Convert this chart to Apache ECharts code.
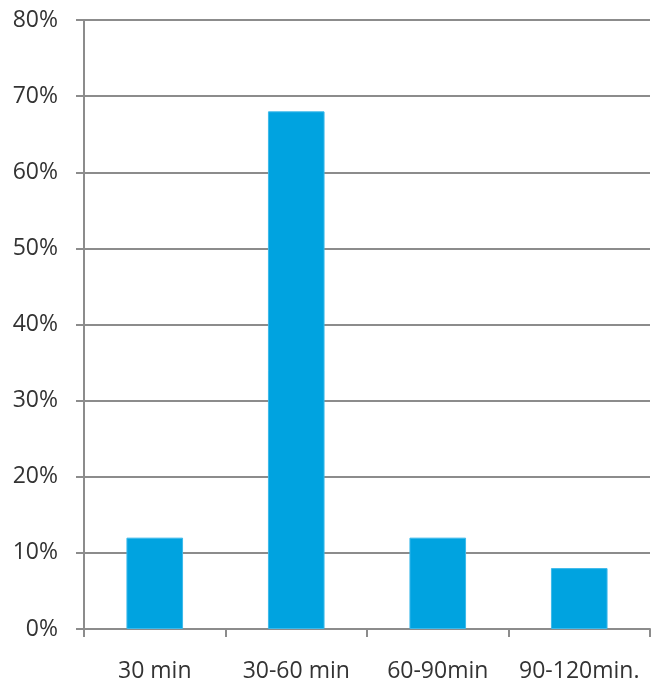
<!DOCTYPE html>
<html>
<head>
<meta charset="utf-8">
<script src="https://cdn.jsdelivr.net/npm/echarts@6/dist/echarts.min.js"></script>
<style>
  html, body { margin: 0; padding: 0; background: #fff; }
  #chart { width: 663px; height: 685px; }
</style>
</head>
<body>
<div id="chart"></div>
<script>
// Duration buckets and share of respondents (fraction)
const categories = ['30 min', '30-60 min', '60-90min', '90-120min.'];
const shares = [0.12, 0.68, 0.12, 0.08];
const yTicks = { min: 0, max: 0.8, interval: 0.1 };

const axisGrey = '#8c8c8c';
const textColor = '#333333';
const fontFamily = '"Open Sans", "DejaVu Sans", sans-serif';

const chart = echarts.init(document.getElementById('chart'), null, { renderer: 'canvas' });
chart.setOption({
  animation: false,
  backgroundColor: '#ffffff',
  grid: { left: 84, right: 13, top: 20, bottom: 56, containLabel: false },
  xAxis: {
    type: 'category',
    data: categories,
    boundaryGap: true,
    axisLine: { show: true, lineStyle: { color: axisGrey, width: 2 } },
    axisTick: { show: true, length: 8, interval: 0, alignWithLabel: false, lineStyle: { color: axisGrey, width: 2 } },
    axisLabel: { interval: 0, hideOverlap: false, color: textColor, fontSize: 23, fontFamily: fontFamily, margin: 31 },
    splitLine: { show: false }
  },
  yAxis: {
    type: 'value',
    min: yTicks.min,
    max: yTicks.max,
    interval: yTicks.interval,
    axisLine: { show: true, lineStyle: { color: axisGrey, width: 2 } },
    axisTick: { show: true, length: 8, lineStyle: { color: axisGrey, width: 2 } },
    axisLabel: {
      color: textColor, fontSize: 23, fontFamily: fontFamily, margin: 26,
      formatter: v => Math.round(v * 100) + '%'
    },
    splitLine: { show: true, lineStyle: { color: axisGrey, width: 2 } }
  },
  series: [{
    type: 'bar',
    data: shares,
    barWidth: '40%',
    itemStyle: { color: '#00a3e0', borderColor: '#3cb9ea', borderWidth: 1 },
    z: 3
  }]
});
</script>
</body>
</html>
